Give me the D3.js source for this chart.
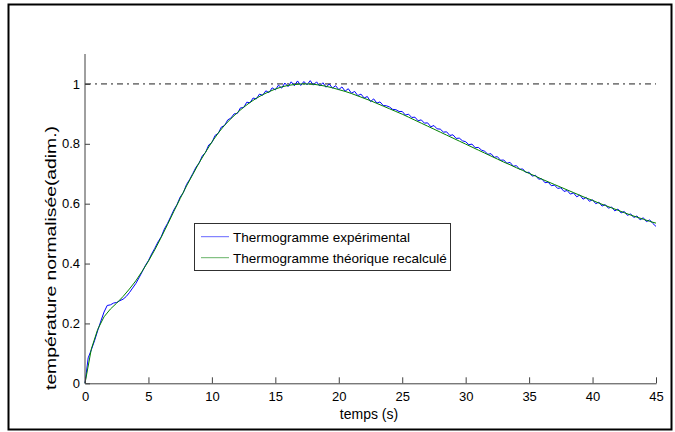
<!DOCTYPE html>
<html>
<head>
<meta charset="utf-8">
<script src="https://cdn.jsdelivr.net/npm/d3@7"></script>
<style>
    body { margin: 0; background: #ffffff; }
    text { font-family: Arial, "Liberation Sans", sans-serif; fill: #000000; }
</style>
</head>
<body>
<div id="chart"></div>
<script>
// sample step of each series, in seconds
const theoStep = 0.5, expStep = 0.25;

// Thermogramme théorique recalculé, every 0.5 s from 0 to 45 s
const theoValues = [
    0, 0.115, 0.18, 0.222, 0.248, 0.268, 0.29, 0.315, 0.342, 0.374,
    0.408, 0.446, 0.487, 0.53, 0.574, 0.617, 0.659, 0.698, 0.737, 0.772,
    0.806, 0.836, 0.862, 0.884, 0.904, 0.922, 0.938, 0.952, 0.964, 0.974,
    0.983, 0.99, 0.995, 0.998, 1.0, 1.0, 0.999, 0.996, 0.992, 0.987,
    0.981, 0.975, 0.968, 0.96, 0.952, 0.944, 0.935, 0.926, 0.917, 0.908,
    0.899, 0.889, 0.879, 0.869, 0.859, 0.849, 0.839, 0.829, 0.819, 0.809,
    0.799, 0.789, 0.779, 0.769, 0.759, 0.749, 0.739, 0.73, 0.72, 0.711,
    0.701, 0.692, 0.682, 0.673, 0.664, 0.655, 0.646, 0.637, 0.628, 0.619,
    0.611, 0.602, 0.594, 0.586, 0.578, 0.57, 0.562, 0.555, 0.548, 0.541,
    0.535
];

// Thermogramme expérimental, every 0.25 s (one row per second)
const expValues = [
    0.0, 0.085, 0.112, 0.142,
    0.176, 0.208, 0.238, 0.26,
    0.262, 0.268, 0.27, 0.276,
    0.281, 0.29, 0.303, 0.318,
    0.333, 0.352, 0.372, 0.393,
    0.41, 0.432, 0.451, 0.472,
    0.489, 0.515, 0.534, 0.556,
    0.579, 0.597, 0.622, 0.637,
    0.664, 0.681, 0.701, 0.722,
    0.736, 0.76, 0.771, 0.796,
    0.804, 0.828, 0.835, 0.856,
    0.861, 0.88, 0.886, 0.9,
    0.901, 0.92, 0.921, 0.939,
    0.937, 0.953, 0.95, 0.966,
    0.962, 0.977, 0.971, 0.987,
    0.98, 0.996, 0.986, 1.003,
    0.991, 1.007, 0.994, 1.01,
    0.995, 1.008, 0.997, 1.011,
    0.996, 1.007, 0.993, 1.004,
    0.989, 1.0, 0.986, 0.994,
    0.981, 0.99, 0.976, 0.984,
    0.969, 0.975, 0.961, 0.966,
    0.953, 0.958, 0.941, 0.95,
    0.936, 0.94, 0.928, 0.927,
    0.923, 0.915, 0.914, 0.908,
    0.908, 0.896, 0.899, 0.888,
    0.889, 0.877, 0.88, 0.869,
    0.87, 0.857, 0.861, 0.85,
    0.849, 0.839, 0.84, 0.828,
    0.83, 0.818, 0.819, 0.81,
    0.807, 0.797, 0.799, 0.787,
    0.788, 0.779, 0.775, 0.765,
    0.767, 0.755, 0.757, 0.745,
    0.746, 0.735, 0.738, 0.725,
    0.727, 0.715, 0.716, 0.704,
    0.705, 0.692, 0.695, 0.682,
    0.683, 0.67, 0.672, 0.66,
    0.662, 0.651, 0.653, 0.641,
    0.644, 0.632, 0.636, 0.623,
    0.629, 0.615, 0.621, 0.608,
    0.613, 0.6, 0.605, 0.592,
    0.597, 0.585, 0.589, 0.576,
    0.582, 0.569, 0.574, 0.561,
    0.566, 0.554, 0.559, 0.546,
    0.553, 0.54, 0.546, 0.534,
    0.524
];

const xTicks = [0, 5, 10, 15, 20, 25, 30, 35, 40, 45];
const yTicks = [0, 0.2, 0.4, 0.6, 0.8, 1];
const refLevel = 1;
const legendLabels = ["Thermogramme expérimental", "Thermogramme théorique recalculé"];
const seriesColors = ["#0000ff", "#008000"];

drawChart();

function drawChart() {
    const width = 675, height = 432;
    const margin = {top: 54, right: 19, bottom: 48.7, left: 85};

    let svg = d3.select("#chart")
        .append("svg")
        .attr("width", width)
        .attr("height", height);

    // outer frame of the figure
    svg.append("rect")
        .attr("x", 8.5).attr("y", 4.5)
        .attr("width", 663).attr("height", 425)
        .style("fill", "none")
        .style("stroke", "#000000")
        .style("stroke-width", 2);

    let x = d3.scaleLinear().domain([0, 45]).range([margin.left, width - margin.right]);
    let y = d3.scaleLinear().domain([0, 1.1]).range([height - margin.bottom, margin.top]);

    let theoData = theoValues.map((v, i) => ({t: i * theoStep, v: v}));
    let expData = expValues.map((v, i) => ({t: i * expStep, v: v}));

    // horizontal reference at 1 (dash-dot)
    svg.append("line")
        .attr("x1", x(0)).attr("x2", x(45))
        .attr("y1", y(refLevel)).attr("y2", y(refLevel))
        .style("stroke", "#202020")
        .style("stroke-width", 1)
        .style("stroke-dasharray", "6,4,2,4");

    let line = d3.line()
        .x(d => x(d.t))
        .y(d => y(d.v));

    svg.append("path")
        .datum(expData)
        .attr("d", line)
        .style("fill", "none")
        .style("stroke", seriesColors[0])
        .style("stroke-width", 1);

    svg.append("path")
        .datum(theoData)
        .attr("d", line)
        .style("fill", "none")
        .style("stroke", seriesColors[1])
        .style("stroke-width", 1);

    // axes, ticks pointing inward like matlab
    let xAxis = svg.append("g")
        .attr("transform", "translate(0," + y(0) + ")")
        .call(d3.axisBottom(x).tickValues(xTicks).tickSizeInner(-6).tickSizeOuter(0).tickPadding(8));

    let yAxis = svg.append("g")
        .attr("transform", "translate(" + x(0) + ",0)")
        .call(d3.axisLeft(y).tickValues(yTicks).tickFormat(d3.format("~g"))
            .tickSizeInner(-5).tickSizeOuter(0).tickPadding(5));

    [xAxis, yAxis].forEach(function (g) {
        g.select(".domain").style("stroke", "#404040");
        g.selectAll(".tick line").style("stroke", "#404040");
        g.selectAll(".tick text")
            .style("font-size", "13px")
            .style("font-family", "Arial, 'Liberation Sans', sans-serif")
            .style("fill", "#000000");
    });
    // the y domain runs up to 1.1
    yAxis.select(".domain").attr("d", "M0," + y(0) + "V" + y(1.1));

    svg.append("text")
        .attr("x", 369)
        .attr("y", 419)
        .attr("text-anchor", "middle")
        .style("font-size", "14px")
        .text("temps (s)");

    // the y label is stretched along its length in the original figure
    svg.append("text")
        .attr("transform", "translate(56,258) rotate(-90) scale(1.38,1)")
        .attr("text-anchor", "middle")
        .style("font-size", "14px")
        .text("température normalisée(adim.)");

    // legend
    let legend = svg.append("g").attr("transform", "translate(194,223)");
    legend.append("rect")
        .attr("x", 0.5).attr("y", 0.5)
        .attr("width", 256).attr("height", 47)
        .style("fill", "#ffffff")
        .style("stroke", "#303030")
        .style("stroke-width", 1);

    legendLabels.forEach(function (lab, i) {
        let ly = 13.7 + i * 21;
        legend.append("line")
            .attr("x1", 7).attr("x2", 35)
            .attr("y1", ly).attr("y2", ly)
            .style("stroke", seriesColors[i])
            .style("stroke-opacity", 0.6)
            .style("stroke-width", 1);
        legend.append("text")
            .attr("x", 39)
            .attr("y", ly + 5)
            .style("font-size", "13.5px")
            .text(lab);
    });
}
</script>
</body>
</html>
